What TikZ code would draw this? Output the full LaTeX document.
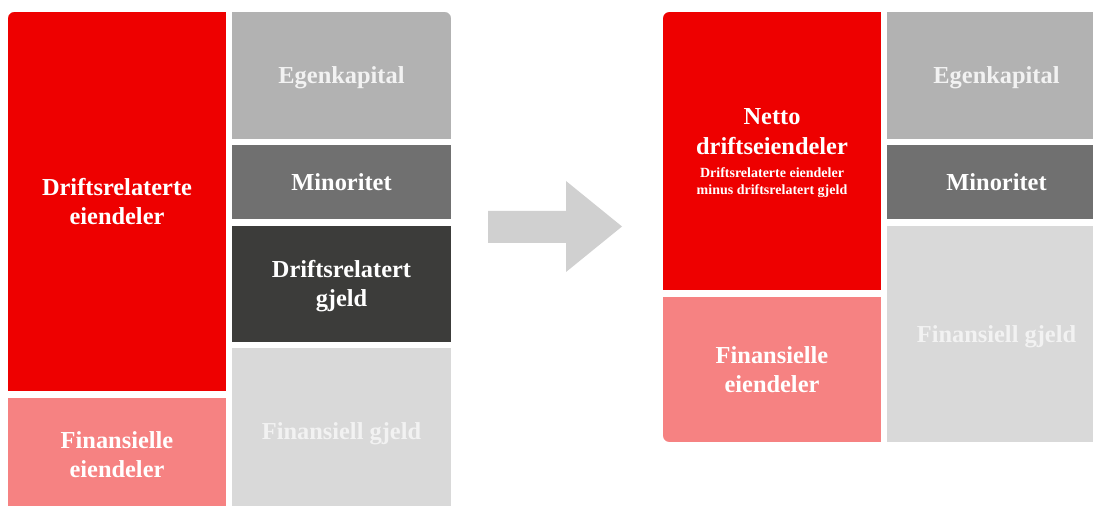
\documentclass[tikz,border=0pt]{standalone}
\usepackage{fontspec}
\setmainfont{Liberation Serif}
\definecolor{opred}{HTML}{EE0000}
\definecolor{finpink}{HTML}{F68282}
\definecolor{eqgray}{HTML}{B2B2B2}
\definecolor{mingray}{HTML}{707070}
\definecolor{debtdark}{HTML}{3C3C3A}
\definecolor{finlight}{HTML}{D9D9D9}
\definecolor{arrowgray}{HTML}{D0D0D0}
\definecolor{softwhite}{HTML}{F2F2F2}
% full line box (ascent + descent of the font) so every line centres alike
\newcommand{\lnstrut}{\rule[-0.216em]{0pt}{1.107em}}
\begin{document}
\begin{tikzpicture}[x=0.75pt,y=-0.75pt,
  blk/.style={inner sep=0pt, outer sep=0pt, align=center, text=white,
    font=\fontsize{18.3}{21.75}\selectfont\bfseries},
  dims/.style 2 args={minimum width=#1*0.75pt, minimum height=#2*0.75pt},
  smalltxt/.style={inner sep=0pt, align=center, text=white,
    font=\fontsize{10.5}{12.75}\selectfont\bfseries}]
\useasboundingbox (0,0) rectangle (1093,506);
\clip (0,0) rectangle (1093,506);

% ---- before: operating view ----
\node[blk, dims={218}{379}, fill=opred] (dre) at (117,201.5) {\lnstrut Driftsrelaterte\\\lnstrut eiendeler};
\node[blk, dims={218}{114}, fill=finpink] (fe) at (117,455) {\lnstrut Finansielle\\\lnstrut eiendeler};
\node[blk, dims={219}{127}, fill=eqgray, text=softwhite] (ek) at (341.5,75.5) {\lnstrut Egenkapital};
\node[blk, dims={219}{74}, fill=mingray] (mi) at (341.5,182) {\lnstrut Minoritet};
\node[blk, dims={219}{116}, fill=debtdark] (dg) at (341.5,284) {\lnstrut Driftsrelatert\\\lnstrut gjeld};
\node[blk, dims={219}{166}, fill=finlight, text=softwhite] (fg) at (341.5,431) {\lnstrut Finansiell gjeld};

% rounded outer corners
\fill[white] (dre.north west) -- ++(4.5pt,0) arc[start angle=90,end angle=180,radius=4.5pt] -- cycle;
\fill[white] (ek.north east) -- ++(-4.5pt,0) arc[start angle=90,end angle=0,radius=4.5pt] -- cycle;

% ---- transformation arrow ----
\fill[arrowgray] (488,211) -- (566,211) -- (566,181) -- (622,226.5)
  -- (566,272) -- (566,243) -- (488,243) -- cycle;

% ---- after: net operating view ----
\node[blk, dims={218}{278}, fill=opred] (nd) at (772,151) {};
\node[blk, font=\fontsize{18.3}{22.5}\selectfont\bfseries] (ndtitle) at (772,130.8)
  {\lnstrut Netto\\\lnstrut driftseiendeler};
\node[smalltxt] (ndsub) at (772,181)
  {\lnstrut Driftsrelaterte eiendeler\\\lnstrut minus driftsrelatert gjeld};
\node[blk, dims={218}{145}, fill=finpink] (rfe) at (772,369.5) {\lnstrut Finansielle\\\lnstrut eiendeler};
\node[blk, dims={219}{127}, fill=eqgray, text=softwhite] (rek) at (996.5,75.5) {\lnstrut Egenkapital};
\node[blk, dims={219}{74}, fill=mingray] (rmi) at (996.5,182) {\lnstrut Minoritet};
\node[blk, dims={219}{216}, fill=finlight, text=softwhite] (rfg) at (996.5,334) {\lnstrut Finansiell gjeld};

\fill[white] (nd.north west) -- ++(4.5pt,0) arc[start angle=90,end angle=180,radius=4.5pt] -- cycle;
\fill[white] (rfe.south west) -- ++(4.5pt,0) arc[start angle=270,end angle=180,radius=4.5pt] -- cycle;
\fill[white] (rek.north east) -- ++(-4.5pt,0) arc[start angle=90,end angle=0,radius=4.5pt] -- cycle;
\end{tikzpicture}
\end{document}
